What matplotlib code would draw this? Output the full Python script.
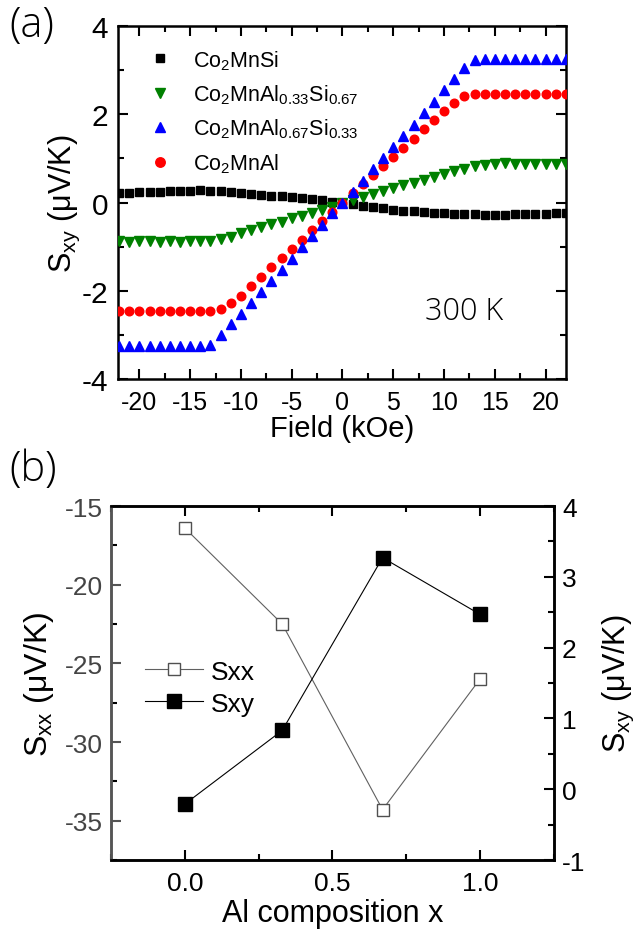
import matplotlib
matplotlib.use('Agg')
import matplotlib.pyplot as plt
from matplotlib.ticker import MultipleLocator

plt.rcParams['font.family'] = ['Liberation Sans', 'DejaVu Sans']
plt.rcParams['mathtext.fontset'] = 'custom'
plt.rcParams['mathtext.rm'] = 'Liberation Sans'
plt.rcParams['mathtext.it'] = 'Liberation Sans:italic'
plt.rcParams['mathtext.default'] = 'regular'
plt.rcParams['axes.unicode_minus'] = False

# ---------------- Panel (a) data ----------------
field = [-22, -21, -20, -19, -18, -17, -16, -15, -14, -13, -12, -11, -10, -9, -8,
         -7, -6, -5, -4, -3, -2, -1, 0, 1, 2, 3, 4, 5, 6, 7, 8, 9, 10, 11, 12,
         13, 14, 15, 16, 17, 18, 19, 20, 21, 22]

s_co2mnsi = [0.22, 0.22, 0.23, 0.24, 0.25, 0.26, 0.27, 0.27, 0.28,
             0.27, 0.26, 0.24, 0.22, 0.20, 0.18, 0.16, 0.14, 0.12, 0.10, 0.07, 0.05, 0.02,
             0.00,
             -0.03, -0.07, -0.10, -0.13, -0.16, -0.18, -0.20, -0.21, -0.23, -0.24, -0.25,
             -0.26, -0.27, -0.28, -0.28, -0.28, -0.27, -0.27, -0.26, -0.25, -0.24, -0.23]

s_al033 = [-0.88, -0.89, -0.88, -0.88, -0.89, -0.88, -0.89, -0.88, -0.87,
           -0.86, -0.82, -0.77, -0.70, -0.63, -0.56, -0.49, -0.43, -0.36, -0.30, -0.23, -0.16, -0.09,
           -0.02,
           0.05, 0.12, 0.19, 0.26, 0.32, 0.39, 0.45, 0.52, 0.58, 0.65, 0.71,
           0.77, 0.82, 0.86, 0.88, 0.89, 0.88, 0.88, 0.88, 0.88, 0.87, 0.88]

s_al067 = [-3.25, -3.26, -3.25, -3.25, -3.26, -3.25, -3.25, -3.26, -3.25,
           -3.22,
           -3.00, -2.76, -2.52, -2.27, -2.02, -1.77, -1.52, -1.27, -1.01, -0.76, -0.50, -0.24,
           0.00,
           0.25, 0.50, 0.75, 1.00, 1.25, 1.50, 1.76, 2.02, 2.28, 2.55, 2.80, 3.04,
           3.22,
           3.25, 3.26, 3.25, 3.25, 3.26, 3.25, 3.25, 3.26, 3.25]

s_co2mnal = [-2.45, -2.46, -2.45, -2.45, -2.46, -2.45, -2.46, -2.46, -2.45, -2.45,
             -2.42,
             -2.28, -2.11, -1.90, -1.69, -1.47, -1.26, -1.05, -0.84, -0.63, -0.42, -0.21,
             0.00,
             0.21, 0.42, 0.62, 0.83, 1.03, 1.24, 1.45, 1.66, 1.87, 2.07, 2.26, 2.41,
             2.45, 2.46, 2.45, 2.46, 2.45, 2.46, 2.46, 2.45, 2.46, 2.46]

labels_a = ['Co$_2$MnSi', 'Co$_2$MnAl$_{0.33}$Si$_{0.67}$',
            'Co$_2$MnAl$_{0.67}$Si$_{0.33}$', 'Co$_2$MnAl']

# ---------------- Panel (b) data ----------------
al_x = [0.0, 0.33, 0.67, 1.0]
sxx = [-16.4, -22.5, -34.3, -26.0]
sxy = [-0.21, 0.83, 3.27, 2.47]

fig = plt.figure(figsize=(6.38, 9.37), dpi=100)

# ======== Panel (a) ========
ax1 = fig.add_axes([0.185, 0.5944, 0.702, 0.3767])
h1, = ax1.plot(field, s_co2mnsi, ls='none', marker='s', ms=5.2, color='black', zorder=2)
h2, = ax1.plot(field, s_al033, ls='none', marker='v', ms=7, color='#008000', mec='#008000', zorder=3)
h4, = ax1.plot(field, s_co2mnal, ls='none', marker='o', ms=6.2, color='#ff0000', mec='#ff0000', zorder=4)
h3, = ax1.plot(field, s_al067, ls='none', marker='^', ms=7, color='#0000ff', mec='#0000ff', zorder=5)

ax1.set_xlim(-22.1, 22)
ax1.set_ylim(-4, 4)
ax1.xaxis.set_major_locator(MultipleLocator(5))
ax1.xaxis.set_minor_locator(MultipleLocator(2.5))
ax1.yaxis.set_major_locator(MultipleLocator(2))
ax1.yaxis.set_minor_locator(MultipleLocator(1))
ax1.tick_params(which='both', direction='in', top=True, right=True, width=1.5)
ax1.tick_params(which='major', length=7)
ax1.tick_params(which='minor', length=4)
ax1.tick_params(axis='x', labelsize=18, pad=8)
ax1.tick_params(axis='y', labelsize=21.5, pad=7)
for sp in ax1.spines.values():
    sp.set_linewidth(1.8)
ax1.set_xlabel('Field (kOe)', fontsize=21, labelpad=0)
ax1.set_ylabel('S$_{xy}$ (μV/K)', fontsize=22, labelpad=0)

ax1.legend([h1, h2, h3, h4], labels_a, loc='upper left', bbox_to_anchor=(0.0698, 0.938),
           frameon=False, fontsize=15.5, handlelength=1.0, handletextpad=1.03,
           labelspacing=0.5, borderpad=0, borderaxespad=0, markerscale=1.1)

ax1.text(12.0, -2.45, '300 K', fontsize=22, ha='center', va='center',
         family=['Open Sans', 'Liberation Sans'], fontweight='light')

fig.text(0.014, 0.972, '(a)', fontsize=30, ha='left', va='center',
         family=['Open Sans', 'Liberation Sans'], fontweight='light')
fig.text(0.014, 0.499, '(b)', fontsize=30, ha='left', va='center',
         family=['Open Sans', 'Liberation Sans'], fontweight='light')

# ======== Panel (b) ========
gray = '#555555'
ax2 = fig.add_axes([0.174, 0.0811, 0.694, 0.3778])
ax3 = ax2.twinx()
l1, = ax2.plot(al_x, sxx, color='#606060', lw=0.8, marker='s', ms=9, mfc='white',
               mec='#505050', mew=1.0, label='Sxx')
l2, = ax3.plot(al_x, sxy, color='black', lw=0.8, marker='s', ms=10, mfc='black',
               mec='black', label='Sxy')

ax2.set_xlim(-0.25, 1.25)
ax2.set_ylim(-37.5, -15)
ax3.set_ylim(-1, 4)
ax2.xaxis.set_major_locator(MultipleLocator(0.5))
ax2.xaxis.set_minor_locator(MultipleLocator(0.25))
ax2.yaxis.set_major_locator(MultipleLocator(5))
ax2.yaxis.set_minor_locator(MultipleLocator(2.5))
ax3.yaxis.set_major_locator(MultipleLocator(1))
ax3.yaxis.set_minor_locator(MultipleLocator(0.5))
ax2.xaxis.set_major_formatter(matplotlib.ticker.FormatStrFormatter('%.1f'))

ax2.tick_params(which='both', direction='in', top=True, right=False, width=1.5)
ax2.tick_params(which='major', length=7)
ax2.tick_params(which='minor', length=4)
ax2.tick_params(axis='x', labelsize=19, pad=8)
ax2.tick_params(axis='y', labelsize=19, pad=6, colors=gray, labelcolor='#444444')
ax3.tick_params(which='both', direction='in', width=1.5, labelsize=19, pad=6)
ax3.tick_params(which='major', length=7)
ax3.tick_params(which='minor', length=4)
for ax in (ax2, ax3):
    for sp in ax.spines.values():
        sp.set_linewidth(1.8)
ax2.spines['left'].set_color(gray)
ax3.spines['left'].set_color(gray)

ax2.set_xlabel('Al composition x', fontsize=22, labelpad=2)
ax2.set_ylabel('S$_{xx}$ (μV/K)', fontsize=23, labelpad=6)
ax3.set_ylabel('S$_{xy}$ (μV/K)', fontsize=22, labelpad=11)

ax3.legend([l1, l2], ['Sxx', 'Sxy'], loc='upper left', bbox_to_anchor=(0.077, 0.566),
           frameon=False, fontsize=19, handlelength=2.2, handletextpad=0.3,
           labelspacing=0.3, borderpad=0, borderaxespad=0)

fig.savefig('out.png', dpi=100)
